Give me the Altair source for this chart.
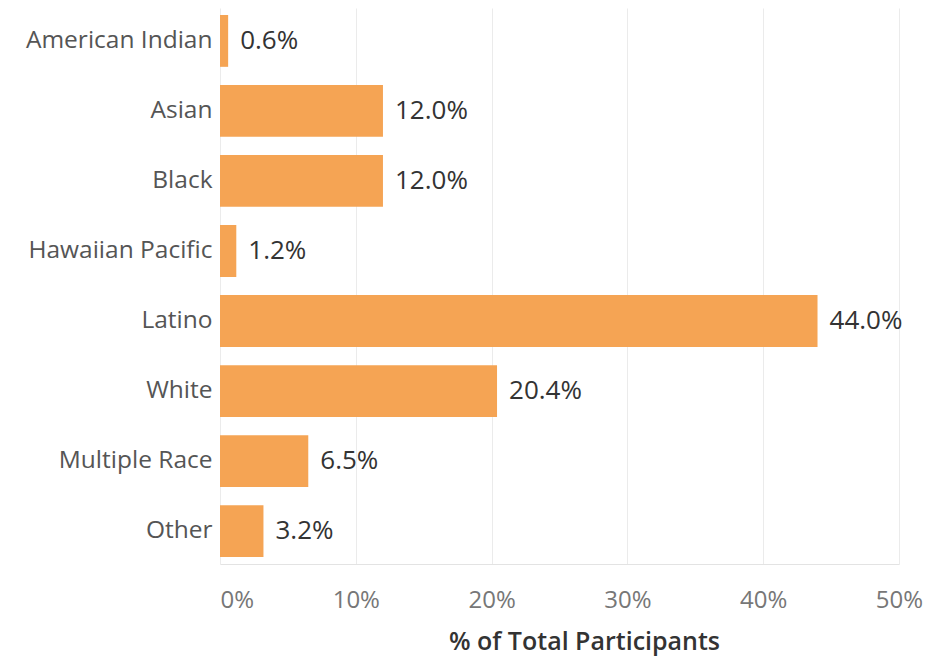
import altair as alt
import pandas as pd

categories = ["American Indian", "Asian", "Black", "Hawaiian Pacific",
              "Latino", "White", "Multiple Race", "Other"]
values = [0.6, 12.0, 12.0, 1.2, 44.0, 20.4, 6.5, 3.2]
tick_values = [0, 10, 20, 30, 40, 50]

df = pd.DataFrame({"category": categories, "value": values})

FONT = "Open Sans"

x = alt.X(
    "value:Q",
    scale=alt.Scale(domain=[0, 50], nice=False),
    axis=alt.Axis(
        values=tick_values,
        labelExpr="datum.value + '%'",
        title="% of Total Participants",
        titleFont=FONT, titleFontSize=25, titleFontWeight=600, titleColor="#333333",
        titleX=364, titleY=85, titleBaseline="alphabetic", titleAnchor="middle",
        labelFont=FONT, labelFontSize=24, labelColor="#777777",
        labelBaseline="alphabetic", labelPadding=43,
        labelAlign={"expr": "datum.value === 0 ? 'left' : 'center'"},
        ticks=False, grid=True, gridColor="#ebebeb", gridWidth=1,
        domain=True, domainColor="#e3e3e3", labelFlush=False,
    ),
)

y = alt.Y(
    "category:N",
    sort=categories,
    scale=alt.Scale(paddingInner=0.26, paddingOuter=0.1),
    axis=alt.Axis(
        title=None, ticks=False, domain=False,
        labelFont=FONT, labelFontSize=24.5, labelColor="#555555",
        labelPadding=8, labelLimit=400,
    ),
)

bars = alt.Chart(df).mark_bar(color="#F5A454").encode(x=x, y=y)

text = alt.Chart(df).transform_calculate(
    label="format(datum.value, '.1f') + '%'"
).mark_text(
    align="left", baseline="middle", dx=12, font=FONT, fontSize=26, color="#333333"
).encode(x="value:Q", y=alt.Y("category:N", sort=categories), text="label:N")

chart = (bars + text).properties(
    width=679, height=556,
    autosize=alt.AutoSizeParams(type="none"),
    padding={"left": 212, "top": 0, "right": 24, "bottom": 94},
).configure_view(stroke=None)

chart.save("out.html", embed_options={"renderer": "svg", "actions": False})
